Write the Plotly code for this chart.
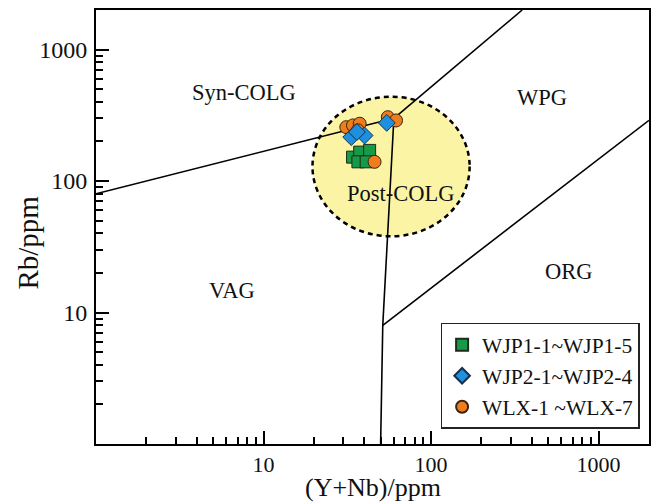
import math
import plotly.graph_objects as go

# Sample compositions (ppm)
wjp1_yn = [34.0, 37.5, 43.0, 36.6, 41.0]
wjp1_rb = [152, 166, 171, 140, 140]

wjp2_yn = [33.4, 40.1, 36.1, 54.4]
wjp2_rb = [216, 222, 236, 277]

wlx_yn = [31.2, 34.2, 37.5, 36.6, 55.2, 61.8, 46.0]
wlx_rb = [257, 265, 273, 243, 306, 289, 140]

# Pearce et al. (1984) discrimination boundaries
vag_syn_x, vag_syn_y = [1, 60], [80, 300]
syn_wpg_x, syn_wpg_y = [60, 350], [300, 2000]
vag_wpg_x, vag_wpg_y = [50, 51.5, 60], [1, 8, 300]
wpg_org_x, wpg_org_y = [51.5, 2000], [8, 290]

# Post-collisional field outline (bounding box in ppm)
post_x0, post_x1 = 19.6, 170
post_y0, post_y1 = 38, 438

field_names = ["Syn-COLG", "WPG", "Post-COLG", "VAG", "ORG"]
field_x = [7.6, 457, 66, 6.5, 670]
field_y = [470, 430, 80.7, 14.8, 20.6]

tick_vals = [10, 100, 1000]
tick_text = ["10", "100", "1000"]

SERIF = "Liberation Serif, Times New Roman, serif"
INK = "#111"

fig = go.Figure()

fig.add_shape(
    type="circle", xref="x", yref="y",
    x0=post_x0, x1=post_x1, y0=post_y0, y1=post_y1,
    fillcolor="#fbf4a4", line=dict(color="black", width=2.5, dash="5px,4px"),
    layer="below",
)

for bx, by in [(vag_syn_x, vag_syn_y), (syn_wpg_x, syn_wpg_y),
               (vag_wpg_x, vag_wpg_y), (wpg_org_x, wpg_org_y)]:
    fig.add_trace(go.Scatter(x=bx, y=by, mode="lines",
                             line=dict(color="black", width=1.6),
                             showlegend=False, hoverinfo="skip"))

fig.add_trace(go.Scatter(
    x=wjp1_yn, y=wjp1_rb, mode="markers", name="WJP1-1~WJP1-5", legendrank=1,
    marker=dict(symbol="square", size=12, color="#179a47",
                line=dict(color="#1d2a1d", width=1)),
))
fig.add_trace(go.Scatter(
    x=wlx_yn, y=wlx_rb, mode="markers", name="WLX-1 ~WLX-7", legendrank=3,
    marker=dict(symbol="circle", size=13, color="#ee7d1e",
                line=dict(color="#3a2410", width=1)),
))
fig.add_trace(go.Scatter(
    x=wjp2_yn, y=wjp2_rb, mode="markers", name="WJP2-1~WJP2-4", legendrank=2,
    marker=dict(symbol="diamond", size=13, color="#1f8fe0",
                line=dict(color="#15304a", width=1)),
))

for name, fx, fy in zip(field_names, field_x, field_y):
    fig.add_annotation(x=math.log10(fx), y=math.log10(fy), text=name,
                       showarrow=False, xref="x", yref="y",
                       font=dict(family=SERIF, size=22.5, color=INK))

# Axis titles
fig.add_annotation(x=0.5, y=-0.1, xref="paper", yref="paper",
                   text="(Y+Nb)/ppm", showarrow=False,
                   xanchor="center", yanchor="middle",
                   font=dict(family=SERIF, size=26, color=INK))
fig.add_annotation(x=-0.122, y=0.463, xref="paper", yref="paper",
                   text="Rb/ppm", showarrow=False, textangle=-90,
                   xanchor="center", yanchor="middle",
                   font=dict(family=SERIF, size=29, color=INK))

axis_common = dict(
    type="log", range=[0, math.log10(2000)],
    showgrid=False, zeroline=False,
    showline=True, linecolor="black", linewidth=2, mirror=True,
    ticks="inside", ticklen=13, tickwidth=2, tickcolor="black",
    tickvals=tick_vals, ticktext=tick_text,
    minor=dict(ticks="inside", ticklen=7, tickwidth=1.5, tickcolor="black",
               dtick="D1", showgrid=False),
)

fig.update_layout(
    width=653, height=502,
    margin=dict(l=96, r=2, t=10, b=58),
    paper_bgcolor="white", plot_bgcolor="white",
    xaxis=dict(**axis_common, tickfont=dict(family=SERIF, size=22, color=INK)),
    yaxis=dict(**axis_common, ticklabelstandoff=2,
               tickfont=dict(family=SERIF, size=24, color=INK)),
    legend=dict(x=0.983, y=0.035, xanchor="right", yanchor="bottom",
                bordercolor="#222", borderwidth=1.5, bgcolor="white",
                font=dict(family=SERIF, size=21.5, color=INK),
                tracegroupgap=0, itemsizing="constant"),
    showlegend=True,
)

fig.write_html("out.html")
